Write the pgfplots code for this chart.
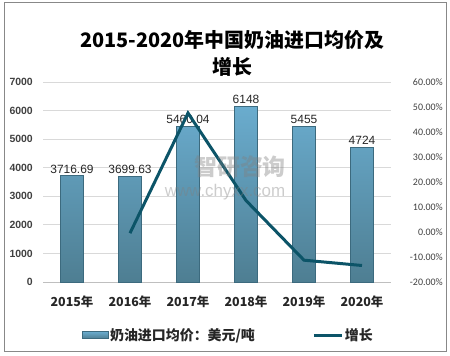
\documentclass[border=0pt]{standalone}
\usepackage{pgfplots}
\pgfplotsset{compat=1.18}
\usepackage{fontspec}
\setmainfont{Liberation Sans}
\newfontfamily\cjk{Noto Sans CJK SC}
\newfontfamily\carl{Carlito}
\definecolor{framec}{RGB}{136,136,136}
\definecolor{gridc}{RGB}{217,217,217}
\definecolor{tickc}{RGB}{64,64,64}
\definecolor{bartop}{RGB}{106,172,206}
\definecolor{barbot}{RGB}{78,126,146}
\definecolor{barline}{RGB}{60,106,126}
\definecolor{linec}{RGB}{12,84,104}
\definecolor{textc}{RGB}{38,38,38}
\begin{document}
\begin{tikzpicture}[x=1bp,y=1bp]
\useasboundingbox (0,0) rectangle (450,355);
\draw[framec, line width=1bp] (4,4) rectangle (446,352.5);
\begin{axis}[
  at={(43bp,73bp)}, anchor=south west,
  width=348bp, height=200bp, scale only axis,
  xmin=-0.5, xmax=5.5, ymin=0, ymax=7000,
  xtick={0,1,2,3,4,5},
  xticklabels={2015年,2016年,2017年,2018年,2019年,2020年},
  ytick={0,1000,2000,3000,4000,5000,6000,7000},
  scaled y ticks=false,
  /pgf/number format/1000 sep={},
  /pgf/number format/assume math mode=true,
  ymajorgrids, grid style={gridc, line width=0.8bp},
  axis x line*=bottom, axis y line*=left,
  y axis line style={draw=none},
  x axis line style={draw={rgb,255:red,191;green,191;blue,191}, line width=0.8bp, -},
  major tick length=0,
  xticklabel style={font=\cjk\bfseries\fontsize{12.5}{14}\selectfont, text=textc, inner sep=0pt, yshift=-14bp},
  yticklabel style={font=\bfseries\fontsize{10.5}{12}\selectfont, text=tickc, inner sep=0pt, xshift=-10bp},
  clip=false,
]
\addplot[ybar, bar width=23bp, draw=barline, line width=0.7bp, top color=bartop, bottom color=barbot,
  nodes near coords, point meta=explicit symbolic,
  every node near coord/.style={font=\fontsize{12}{14}\selectfont, text=textc, inner sep=2bp}]
  coordinates {(0,3716.69)[3716.69] (1,3699.63)[3699.63] (2,5460.04)[5460.04] (3,6148)[6148] (4,5455)[5455] (5,4724)[4724]};
\end{axis}
\begin{axis}[
  at={(43bp,73bp)}, anchor=south west,
  width=348bp, height=200bp, scale only axis,
  xmin=-0.5, xmax=5.5, ymin=-20, ymax=60,
  ytick={-20,-10,0,10,20,30,40,50,60},
  yticklabel={\pgfmathprintnumber[fixed,fixed zerofill,precision=2]{\tick}\%},
  /pgf/number format/assume math mode=true,
  axis x line=none, axis y line*=right,
  y axis line style={draw=none},
  major tick length=0,
  yticklabel style={font=\carl\fontsize{10}{12}\selectfont, text=tickc, inner sep=0pt, anchor=east, xshift=52bp},
  legend columns=2,
  legend style={draw=none, fill=none, at={(0.532,-0.265)}, anchor=center,
    font=\cjk\bfseries\fontsize{14}{16}\selectfont, text=textc,
    /tikz/every even column/.append style={column sep=56bp},
    nodes={inner sep=1.5bp}},
  clip=false,
]
\addlegendimage{legend image code/.code={\draw[draw=barline, line width=0.6bp, top color=bartop, bottom color=barbot] (0bp,-3.5bp) rectangle (26bp,3.5bp);}}
\addlegendentry{奶油进口均价：美元/吨}
\addplot[linec, line width=3bp, mark=none,
  legend image code/.code={\draw[linec, line width=3bp] (0bp,0bp) -- (28bp,0bp);}]
  coordinates {(1,-0.46) (2,47.58) (3,12.60) (4,-11.27) (5,-13.40)};
\addlegendentry{增长}
\end{axis}
\node[font=\cjk\bfseries\fontsize{20}{22}\selectfont, text=black] at (232,315) {2015-2020年中国奶油进口均价及};
\node[font=\cjk\bfseries\fontsize{20}{22}\selectfont, text=black] at (232,288) {增长};
\node[font=\cjk\bfseries\fontsize{23}{23}\selectfont, text=gray, opacity=0.4, inner sep=0pt] at (240,188) {智研咨询};
\node[font=\fontsize{17}{17}\selectfont, text=gray, opacity=0.4, inner sep=0pt] at (225,163) {www.chyxx.com};
\end{tikzpicture}
\end{document}
